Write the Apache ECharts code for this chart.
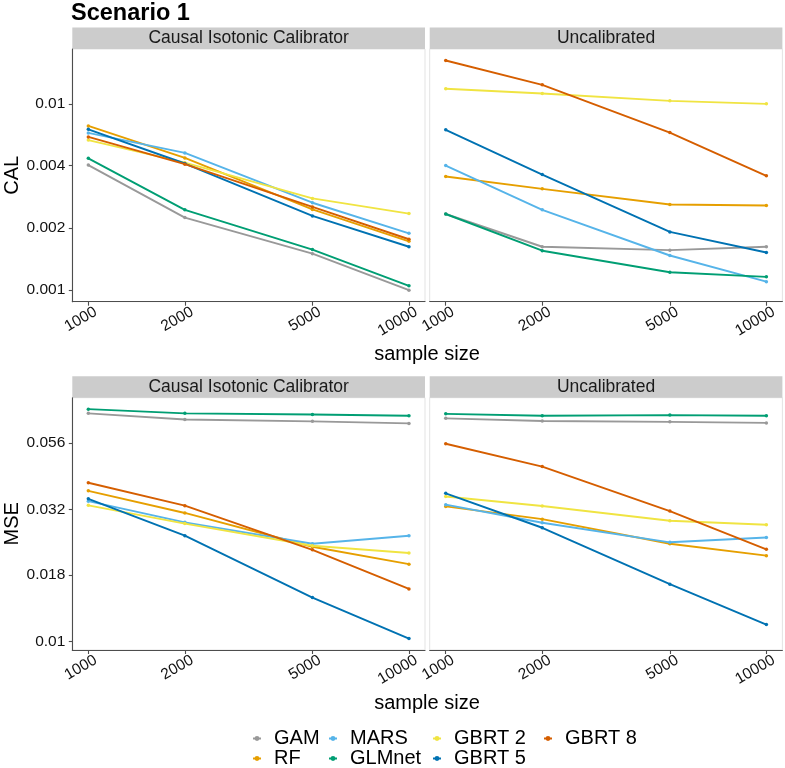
<!DOCTYPE html>
<html><head><meta charset="utf-8">
<script src="https://cdn.jsdelivr.net/npm/echarts@6/dist/echarts.min.js"></script>
<style>html,body{margin:0;padding:0;background:#fff}#c{width:785px;height:768px}</style>
</head><body><div id="c"></div>
<script>
// ---------------- data ----------------
const sampleSizes = [1000, 2000, 5000, 10000];
const methods = ['GAM', 'RF', 'MARS', 'GLMnet', 'GBRT 2', 'GBRT 5', 'GBRT 8'];
const methodColors = ['#999999', '#E69F00', '#56B4E9', '#009E73', '#F0E442', '#0072B2', '#D55E00'];
const panelNames = ['Causal Isotonic Calibrator', 'Uncalibrated'];

// rows follow `methods` order; columns follow `sampleSizes`
const calIsotonic = [
  [0.00401, 0.00224, 0.00150, 0.00100],
  [0.00619, 0.00434, 0.00245, 0.00172],
  [0.00573, 0.00459, 0.00264, 0.00188],
  [0.00432, 0.00244, 0.00157, 0.00105],
  [0.00529, 0.00412, 0.00277, 0.00234],
  [0.00596, 0.00408, 0.00228, 0.00162],
  [0.00548, 0.00405, 0.00252, 0.00176]
];
const calUncalibrated = [
  [0.00233, 0.00162, 0.00156, 0.00162],
  [0.00353, 0.00308, 0.00259, 0.00256],
  [0.00399, 0.00244, 0.00147, 0.00110],
  [0.00233, 0.00155, 0.00122, 0.00116],
  [0.00935, 0.00888, 0.00818, 0.00791],
  [0.00593, 0.00361, 0.00191, 0.00152],
  [0.01280, 0.00977, 0.00575, 0.00356]
];
const mseIsotonic = [
  [0.0728, 0.0690, 0.0679, 0.0667],
  [0.0371, 0.0306, 0.0228, 0.0196],
  [0.0339, 0.0282, 0.0234, 0.0251],
  [0.0755, 0.0728, 0.0721, 0.0713],
  [0.0327, 0.0279, 0.0230, 0.0216],
  [0.0346, 0.0251, 0.01466, 0.01026],
  [0.0398, 0.0326, 0.0222, 0.0158]
];
const mseUncalibrated = [
  [0.0697, 0.0681, 0.0676, 0.0670],
  [0.0324, 0.0290, 0.0234, 0.0211],
  [0.0329, 0.0281, 0.0237, 0.0247],
  [0.0725, 0.0713, 0.0717, 0.0713],
  [0.0353, 0.0325, 0.0286, 0.0276],
  [0.0363, 0.0269, 0.01646, 0.01159],
  [0.0559, 0.0458, 0.0311, 0.0223]
];

const xTicks = [1000, 2000, 5000, 10000];
const xTickLabels = ['1000', '2000', '5000', '10000'];
const calTicks = [0.001, 0.002, 0.004, 0.0079];
const calTickLabels = ['0.001', '0.002', '0.004', '0.01'];
const mseTicks = [0.01, 0.0178, 0.0316, 0.0562];
const mseTickLabels = ['0.01', '0.018', '0.032', '0.056'];

// ---------------- chart ----------------
const FONT = '"Liberation Sans", Arial, Helvetica, sans-serif';
const L10 = Math.log10;

function logRange(values) {
  const lo = L10(Math.min.apply(null, values)), hi = L10(Math.max.apply(null, values));
  const pad = 0.05 * (hi - lo);
  return [Math.pow(10, lo - pad), Math.pow(10, hi + pad)];
}
function labeler(ticks, labels) {
  return function (v) {
    let best = 0, d = Infinity;
    ticks.forEach((t, i) => { const e = Math.abs(L10(t) - L10(v)); if (e < d) { d = e; best = i; } });
    return labels[best];
  };
}

const flat = a => a.reduce((s, r) => s.concat(r), []);
const xRange = logRange(sampleSizes);
const calRange = logRange(flat(calIsotonic).concat(flat(calUncalibrated)));
const mseRange = logRange(flat(mseIsotonic).concat(flat(mseUncalibrated)));

const colL = 72.3, colR = 429.7, panelW = 352.7;
const rowT = [49, 397.7], panelH = [252.7, 252.3];
const stripH = 21.4;

const panels = [
  { data: calIsotonic, row: 0, col: 0 },
  { data: calUncalibrated, row: 0, col: 1 },
  { data: mseIsotonic, row: 1, col: 0 },
  { data: mseUncalibrated, row: 1, col: 1 }
];

const grids = [], xAxes = [], yAxes = [], series = [], graphics = [];
const axisColor = '#4d4d4d';

panels.forEach((p, i) => {
  const left = p.col === 0 ? colL : colR;
  grids.push({ left: left, top: rowT[p.row], width: panelW, height: panelH[p.row],
    show: true, borderColor: '#e3e3e3', borderWidth: 1, backgroundColor: '#fff' });
  xAxes.push({
    type: 'log', gridIndex: i, min: xRange[0], max: xRange[1],
    axisLine: { show: true, onZero: false, lineStyle: { color: axisColor, width: 1.1 } },
    axisTick: { show: true, length: 4, customValues: xTicks, lineStyle: { color: axisColor, width: 1.1 } },
    axisLabel: { show: true, customValues: xTicks, rotate: 30, margin: 4, fontSize: 15.5,
      align: 'right', verticalAlign: 'top', padding: [0, -4, 0, 0],
      fontFamily: FONT, color: '#111', formatter: labeler(xTicks, xTickLabels) },
    splitLine: { show: false }, minorTick: { show: false }
  });
  const ticks = p.row === 0 ? calTicks : mseTicks;
  const labs = p.row === 0 ? calTickLabels : mseTickLabels;
  const rng = p.row === 0 ? calRange : mseRange;
  const leftCol = p.col === 0;
  yAxes.push({
    type: 'log', gridIndex: i, min: rng[0], max: rng[1],
    name: leftCol ? (p.row === 0 ? 'CAL' : 'MSE') : '',
    nameLocation: 'middle', nameGap: 47,
    nameTextStyle: { fontSize: 20, fontFamily: FONT, color: '#000' },
    axisLine: { show: leftCol, onZero: false, lineStyle: { color: axisColor, width: 1.1 } },
    axisTick: { show: leftCol, length: 3.5, customValues: ticks, lineStyle: { color: axisColor, width: 1.1 } },
    axisLabel: { show: leftCol, customValues: ticks, margin: 7, fontSize: 15.5, fontFamily: FONT,
      color: '#111', formatter: labeler(ticks, labs) },
    splitLine: { show: false }, minorTick: { show: false }
  });
  methods.forEach((m, k) => {
    series.push({
      type: 'line', name: m, xAxisIndex: i, yAxisIndex: i,
      data: sampleSizes.map((s, j) => [s, p.data[k][j]]),
      symbol: 'circle', symbolSize: 3.5, showSymbol: true,
      lineStyle: { width: 1.9, color: methodColors[k] },
      itemStyle: { color: methodColors[k] },
      emphasis: { disabled: true }, animation: false, z: 2 + k
    });
  });
  // facet strip
  graphics.push({ type: 'rect', shape: { x: left, y: rowT[p.row] - stripH, width: panelW, height: stripH },
    style: { fill: '#cccccc' }, silent: true });
  graphics.push({ type: 'text', x: left + panelW / 2, y: rowT[p.row] - stripH / 2,
    style: { text: panelNames[p.col], fill: '#1a1a1a', font: '17.5px ' + FONT, align: 'center', verticalAlign: 'middle' },
    silent: true });
});

['sample size', 'sample size'].forEach((t, r) => {
  graphics.push({ type: 'text', x: 427, y: r === 0 ? 354 : 703,
    style: { text: t, fill: '#000', font: '20px ' + FONT, align: 'center', verticalAlign: 'middle' }, silent: true });
});

const legendCols = [['GAM', 'RF'], ['MARS', 'GLMnet'], ['GBRT 2', 'GBRT 5'], ['GBRT 8']];
const legendLefts = [252, 328, 432, 543];
const legends = legendCols.map((d, i) => ({
  data: d, orient: 'vertical', left: legendLefts[i], top: 728.5, width: 120, height: 60,
  padding: 0, itemGap: 0,
  itemWidth: 8, itemHeight: 6, selectedMode: false,
  textStyle: { fontSize: 20, fontFamily: FONT, color: '#000', lineHeight: 18.3, padding: [0, 0, 0, 8] }
}));

const chart = echarts.init(document.getElementById('c'), null, { renderer: 'canvas' });
chart.setOption({
  backgroundColor: '#fff',
  animation: false,
  title: { text: 'Scenario 1', left: 71, top: 2, padding: 0,
    textStyle: { fontSize: 23.5, fontWeight: 'bold', fontFamily: FONT, color: '#000' } },
  legend: legends,
  grid: grids, xAxis: xAxes, yAxis: yAxes, series: series,
  graphic: graphics
});
</script>
</body></html>
